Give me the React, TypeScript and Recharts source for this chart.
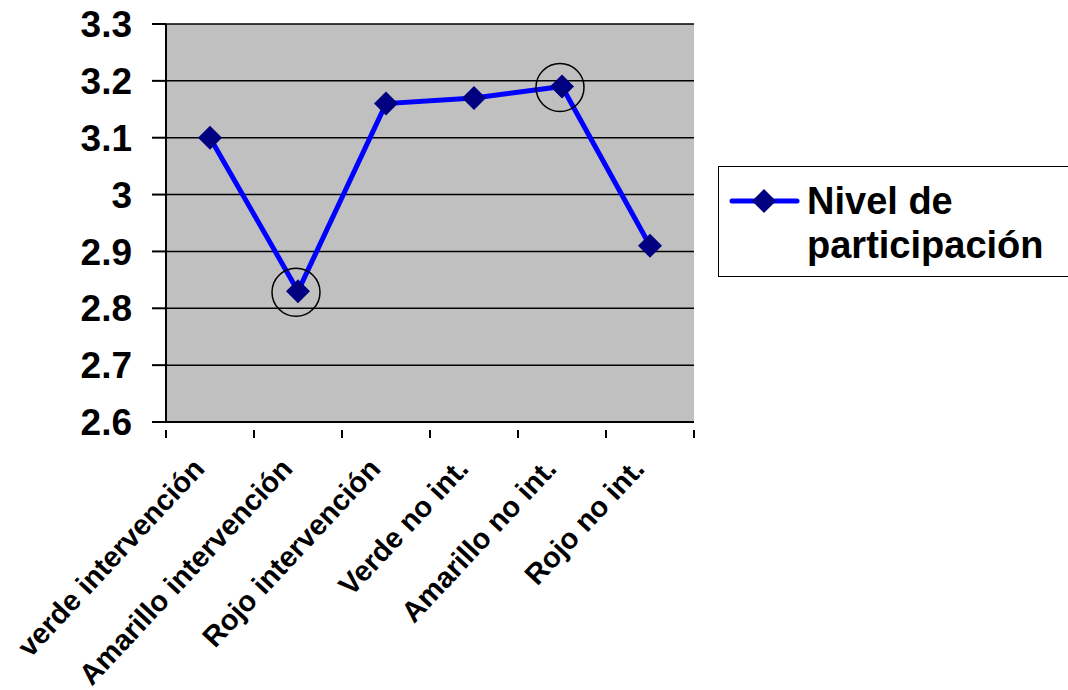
import { LineChart, Line, XAxis, YAxis, CartesianGrid } from 'recharts';

const categories = [
  'verde intervención',
  'Amarillo intervención',
  'Rojo intervención',
  'Verde no int.',
  'Amarillo no int.',
  'Rojo no int.',
];
const participacion = [3.1, 2.83, 3.16, 3.17, 3.19, 2.91];
const circled = [1, 4];
const yTicks = [2.6, 2.7, 2.8, 2.9, 3.0, 3.1, 3.2, 3.3];
const seriesName = ['Nivel de', 'participación'];

const data = categories.map((name, i) => ({ name, value: participacion[i] }));

const FONT = '"Liberation Sans", Arial, sans-serif';
const BAND = 528 / categories.length;

function Diamond({ cx, cy, index }: any) {
  return (
    <g key={`d-${index}`}>
      <path d={`M${cx},${cy - 12} L${cx + 12},${cy} L${cx},${cy + 12} L${cx - 12},${cy} Z`} fill="#000080" />
      {circled.includes(index) && (
        <circle cx={cx - 2} cy={cy + 1} r={24} fill="none" stroke="#000" strokeWidth={1.5} />
      )}
    </g>
  );
}

function XTick({ x, y, payload, index }: any) {
  const last = index === categories.length - 1;
  return (
    <g>
      <line x1={x - BAND / 2} y1={y} x2={x - BAND / 2} y2={y + 8} stroke="#000" strokeWidth={2} />
      {last && <line x1={x + BAND / 2} y1={y} x2={x + BAND / 2} y2={y + 8} stroke="#000" strokeWidth={2} />}
      <g transform={`translate(${x - 4},${y + 40})`}>
        <text
          textAnchor="end"
          transform="rotate(-47)"
          fontFamily={FONT}
          fontWeight="bold"
          fontSize={29}
          fill="#000"
        >
          {payload.value}
        </text>
      </g>
    </g>
  );
}

function LegendBox() {
  return (
    <div
      style={{
        position: 'absolute',
        left: 718,
        top: 166,
        width: 352,
        height: 111,
        border: '1.5px solid #000',
        background: '#fff',
        boxSizing: 'border-box',
        fontFamily: FONT,
        fontWeight: 'bold',
        fontSize: 38,
        lineHeight: '44px',
      }}
    >
      <svg width={80} height={30} style={{ position: 'absolute', left: 10, top: 19 }}>
        <line x1={3} y1={15} x2={68} y2={15} stroke="#0000FF" strokeWidth={5} strokeLinecap="round" />
        <path d="M35,3 L47,15 L35,27 L23,15 Z" fill="#000080" />
      </svg>
      <div style={{ position: 'absolute', left: 88, top: 12, whiteSpace: 'nowrap' }}>
        {seriesName[0]}
        <br />
        {seriesName[1]}
      </div>
    </div>
  );
}

export default function App() {
  return (
    <div style={{ position: 'absolute', left: 0, top: 0, width: 1068, height: 690, background: '#fff' }}>
      <LineChart width={1068} height={690} data={data} margin={{ top: 24, right: 374, bottom: 0, left: 0 }}>
        <CartesianGrid vertical={false} stroke="#000" strokeWidth={1.5} fill="#C0C0C0" />
        <XAxis
          dataKey="name"
          height={268}
          interval={0}
          padding={{ left: BAND / 2, right: BAND / 2 }}
          tickLine={false}
          axisLine={{ stroke: '#000', strokeWidth: 2 }}
          tick={<XTick />}
        />
        <YAxis
          width={166}
          domain={[2.6, 3.3]}
          ticks={yTicks}
          interval={0}
          tickSize={14}
          tickMargin={20}
          tickLine={{ stroke: '#000', strokeWidth: 2 }}
          axisLine={{ stroke: '#000', strokeWidth: 2 }}
          tickFormatter={(v: number) => String(Math.round(v * 10) / 10)}
          tick={{ fontFamily: FONT, fontWeight: 'bold', fontSize: 37, fill: '#000' }}
        />
        <Line
          dataKey="value"
          name="Nivel de participación"
          stroke="#0000FF"
          strokeWidth={5}
          dot={<Diamond />}
          activeDot={false}
          isAnimationActive={false}
        />
      </LineChart>
      <LegendBox />
    </div>
  );
}
